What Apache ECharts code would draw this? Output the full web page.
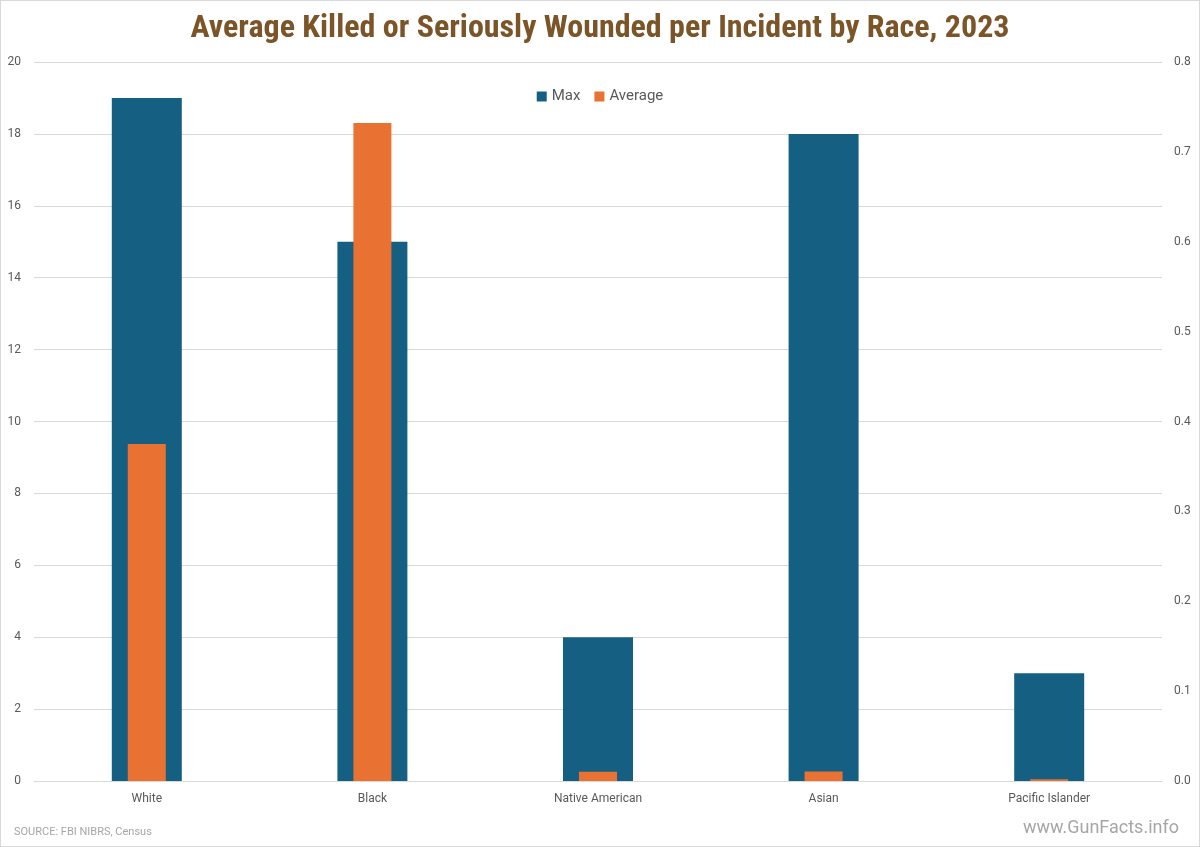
<!DOCTYPE html>
<html>
<head>
<meta charset="utf-8">
<script src="https://cdn.jsdelivr.net/npm/echarts@6/dist/echarts.min.js"></script>
<style>
html,body{margin:0;padding:0;background:#fff;}
#c{width:1200px;height:847px;box-sizing:border-box;border:1px solid #d9d9d9;}
</style>
</head>
<body>
<div id="c"></div>
<script>
const categories = ["White", "Black", "Native American", "Asian", "Pacific Islander"];
const maxValues = [19, 15, 4, 18, 3];
const avgValues = [0.375, 0.732, 0.0103, 0.0106, 0.002];
const leftTicks = {min: 0, max: 20, interval: 2};
const rightTicks = {min: 0, max: 0.8, interval: 0.1};

const chart = echarts.init(document.getElementById('c'));
const labelStyle = {color: '#595959', fontSize: 12, fontFamily: 'Roboto, "Open Sans", sans-serif'};
chart.setOption({
  animation: false,
  title: {
    text: 'Average Killed or Seriously Wounded per Incident by Race, 2023',
    left: 'center', top: 7,
    textStyle: {color: '#7B5427', fontSize: 32, fontWeight: 'bold', fontFamily: '"Liberation Sans Narrow", "Roboto Condensed", sans-serif'}
  },
  legend: {
    top: 83, left: 'center', itemWidth: 10, itemHeight: 10, itemGap: 14,
    icon: 'rect',
    textStyle: {color: '#595959', fontSize: 15, fontFamily: 'Roboto, "Open Sans", sans-serif'},
    data: ['Max', 'Average']
  },
  grid: {left: 33, right: 37, top: 61, bottom: 65, containLabel: false},
  xAxis: [
    {type: 'category', data: categories, axisTick: {show: false},
     axisLine: {lineStyle: {color: '#d9d9d9'}}, axisLabel: Object.assign({margin: 12}, labelStyle)},
    {type: 'category', data: categories, show: false}
  ],
  yAxis: [
    {type: 'value', min: leftTicks.min, max: leftTicks.max, interval: leftTicks.interval,
     axisLine: {show: false}, axisTick: {show: false},
     splitLine: {lineStyle: {color: '#d9d9d9'}},
     axisLabel: Object.assign({margin: 13}, labelStyle)},
    {type: 'value', min: rightTicks.min, max: rightTicks.max, interval: rightTicks.interval,
     position: 'right', axisLine: {show: false}, axisTick: {show: false},
     splitLine: {show: false},
     axisLabel: Object.assign({margin: 12, formatter: v => v.toFixed(1)}, labelStyle)}
  ],
  series: [
    {name: 'Max', type: 'bar', xAxisIndex: 0, yAxisIndex: 0, data: maxValues, barWidth: 70,
     itemStyle: {color: '#156082'}},
    {name: 'Average', type: 'bar', xAxisIndex: 1, yAxisIndex: 1, data: avgValues, barWidth: 38,
     itemStyle: {color: '#E97132'}}
  ],
  graphic: [
    {type: 'text', left: 13, top: 826, style: {text: 'SOURCE: FBI NIBRS, Census', fill: '#a6a6a6', fontSize: 11, fontFamily: 'Roboto, sans-serif'}},
    {type: 'text', right: 20, top: 818, style: {text: 'www.GunFacts.info', fill: '#a6a6a6', fontSize: 18, fontFamily: 'Roboto, sans-serif'}}
  ]
});
</script>
</body>
</html>
